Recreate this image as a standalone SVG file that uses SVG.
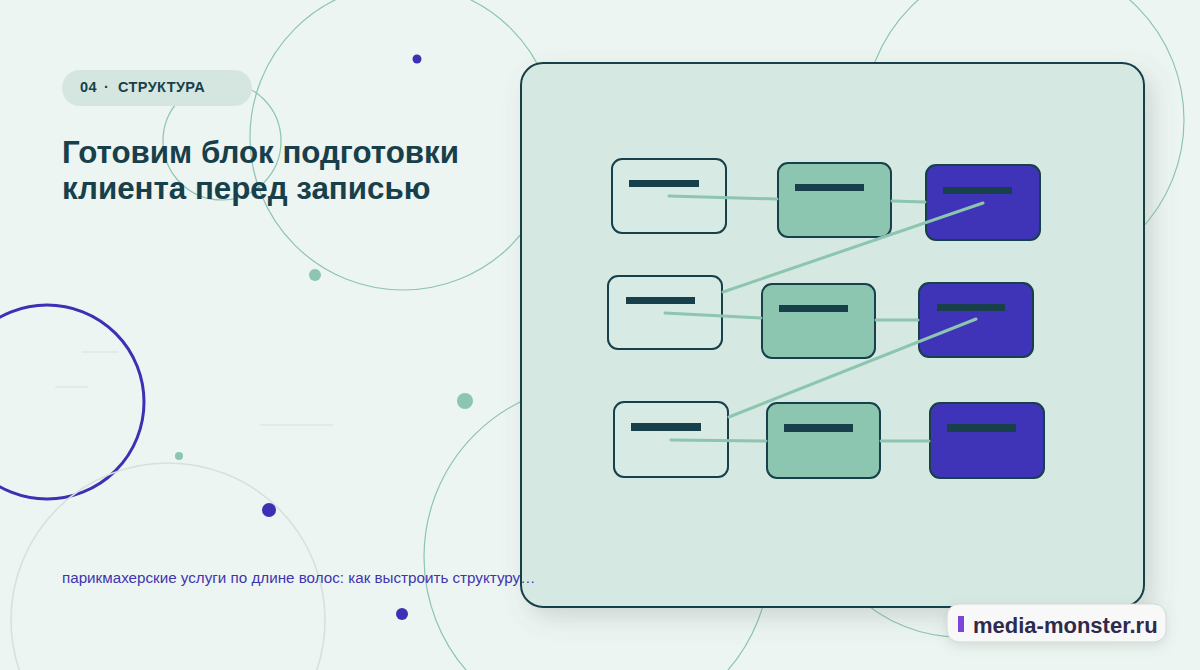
<svg xmlns="http://www.w3.org/2000/svg" width="1200" height="670" viewBox="0 0 1200 670">
<defs>
<style>
.deco{fill:none;stroke:#8CC5B0;stroke-width:1.2}
.node{stroke:#17404A;stroke-width:2}
.light{fill:#D8EAE4}
.green{fill:#8CC5B0}
.purple{fill:#3F33B8}
.bar{fill:#17404A}
.conn{stroke:#8CC5B0;stroke-width:3;stroke-linecap:round;fill:none}
.faint{stroke:#D3E3DD;stroke-width:1.2}
</style>
<filter id="sh" x="-10%" y="-10%" width="130%" height="130%">
<feDropShadow dx="8" dy="10" stdDeviation="12" flood-color="#5A6B66" flood-opacity="0.22"/>
</filter>
<filter id="sh2" x="-20%" y="-40%" width="140%" height="200%">
<feDropShadow dx="0" dy="4" stdDeviation="6" flood-color="#5A6B66" flood-opacity="0.18"/>
</filter>
</defs>
<rect width="1200" height="670" fill="#EDF5F2"/>
<g id="background">
<circle class="deco" cx="403" cy="137" r="153"/>
<circle class="deco" cx="222" cy="141" r="59" stroke-width="1.6"/>
<circle class="deco" cx="1024" cy="120" r="160" stroke-width="1.6"/>
<circle class="deco" cx="597" cy="557" r="173"/>
<circle class="deco" cx="960" cy="487" r="150"/>
<circle cx="47" cy="402" r="97" fill="none" stroke="#3F2FB5" stroke-width="3"/>
<circle cx="168" cy="620" r="157" fill="none" stroke="#D9DFDC" stroke-width="1.6"/>
<line class="faint" x1="82" y1="352" x2="118" y2="352"/>
<line class="faint" x1="55" y1="387" x2="88" y2="387"/>
<line class="faint" x1="260" y1="425" x2="333" y2="425"/>
<circle cx="417" cy="59" r="4.5" fill="#3F2FB5"/>
<circle cx="315" cy="275" r="6" fill="#8CC5B0"/>
<circle cx="465" cy="401" r="8" fill="#8CC5B0"/>
<circle cx="179" cy="456" r="4" fill="#8CC5B0"/>
<circle cx="269" cy="510" r="7" fill="#3F2FB5"/>
<circle cx="402" cy="614" r="6" fill="#3F2FB5"/>
</g>
<g id="header">
<rect x="62" y="70" width="190" height="36" rx="18" fill="#D5E6E1"/>
<text y="92" font-family="Liberation Sans, Arial, sans-serif" font-weight="bold" font-size="14.5" letter-spacing="0.4" fill="#17404A"><tspan x="80">04</tspan><tspan x="104">·</tspan><tspan x="118">СТРУКТУРА</tspan></text>
<text font-family="Liberation Sans, Arial, sans-serif" font-weight="bold" font-size="31.3" fill="#17404A"><tspan x="62" y="163">Готовим блок подготовки</tspan><tspan x="62" y="199">клиента перед записью</tspan></text>
</g>
<g id="panel">
<rect x="521" y="63" width="623" height="544" rx="22" fill="#D6E8E2" stroke="#17404A" stroke-width="2" filter="url(#sh)"/>
</g>
<g id="caption">
<text x="62" y="583" font-family="Liberation Sans, Arial, sans-serif" font-size="15.2" fill="#3F35B0">парикмахерские услуги по длине волос: как выстроить структуру…</text>
</g>
<g id="n1"><rect class="node light" x="612" y="159" width="114" height="74" rx="10"/><rect class="bar" x="629" y="180" width="70" height="7"/></g>
<g id="n2"><rect class="node green" x="778" y="163" width="113" height="74" rx="10"/><rect class="bar" x="795" y="184" width="69" height="7"/></g>
<g id="n3"><rect class="node purple" x="926" y="165" width="114" height="75" rx="10"/><rect class="bar" x="943" y="187" width="69" height="7"/></g>
<g id="n4"><rect class="node light" x="608" y="276" width="114" height="73" rx="10"/><rect class="bar" x="626" y="297" width="69" height="7"/></g>
<g id="n5"><rect class="node green" x="762" y="284" width="113" height="74" rx="10"/><rect class="bar" x="779" y="305" width="69" height="7"/></g>
<g id="n6"><rect class="node purple" x="919" y="283" width="114" height="74" rx="10"/><rect class="bar" x="937" y="304" width="68" height="7"/></g>
<g id="n7"><rect class="node light" x="614" y="402" width="114" height="75" rx="10"/><rect class="bar" x="631" y="423" width="70" height="8"/></g>
<g id="n8"><rect class="node green" x="767" y="403" width="113" height="75" rx="10"/><rect class="bar" x="784" y="424" width="69" height="8"/></g>
<g id="n9"><rect class="node purple" x="930" y="403" width="114" height="75" rx="10"/><rect class="bar" x="947" y="424" width="69" height="8"/></g>
<g id="connectors">
<path class="conn" d="M669 196 L777 199"/>
<path class="conn" d="M892 201 L925 202"/>
<path class="conn" d="M983 203 L723 292"/>
<path class="conn" d="M665 313 L761 318"/>
<path class="conn" d="M876 320 L918 320"/>
<path class="conn" d="M976 319 L729 417"/>
<path class="conn" d="M671 440 L766 441"/>
<path class="conn" d="M881 441 L929 441"/>
</g>
<g id="badge">
<rect x="947" y="604" width="219" height="38" rx="12" fill="#F7F8F7" stroke="#D3D8D6" stroke-width="1" filter="url(#sh2)"/>
<rect x="958" y="616" width="6" height="16" fill="#7B45D9"/>
<text x="973" y="633" font-family="Liberation Sans, Arial, sans-serif" font-weight="bold" font-size="22" fill="#2E2A4E">media-monster.ru</text>
</g>
</svg>
